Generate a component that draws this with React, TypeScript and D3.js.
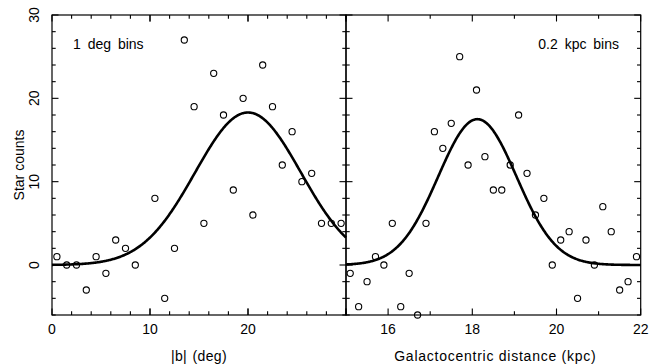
import React from "react";
import * as d3 from "d3";

const W = 657;
const H = 364;

// 1 degree bins in |b| (bin centres) and star counts
const latBins = [0.5, 1.5, 2.5, 3.5, 4.5, 5.5, 6.5, 7.5, 8.5, 10.5, 11.5, 12.5, 13.5, 14.5, 15.5, 16.5, 17.5, 18.5, 19.5, 20.5, 21.5, 22.5, 23.5, 24.5, 25.5, 26.5, 27.5, 28.5, 29.5];
const latCounts = [1, 0, 0, -3, 1, -1, 3, 2, 0, 8, -4, 2, 27, 19, 5, 23, 18, 9, 20, 6, 24, 19, 12, 16, 10, 11, 5, 5, 5];

// 0.2 kpc bins in Galactocentric distance (bin centres) and star counts
const distBins = [15.1, 15.3, 15.5, 15.7, 15.9, 16.1, 16.3, 16.5, 16.7, 16.9, 17.1, 17.3, 17.5, 17.7, 17.9, 18.1, 18.3, 18.5, 18.7, 18.9, 19.1, 19.3, 19.5, 19.7, 19.9, 20.1, 20.3, 20.5, 20.7, 20.9, 21.1, 21.3, 21.5, 21.7, 21.9];
const distCounts = [-1, -5, -2, 1, 0, 5, -5, -1, -6, 5, 16, 14, 17, 25, 12, 21, 13, 9, 9, 12, 18, 11, 6, 8, 0, 3, 4, -4, 3, 0, 7, 4, -3, -2, 1];

// Gaussian fits (amplitude, centre, sigma)
const latFitParams = [18.3, 20.0, 5.4];
const distFitParams = [17.5, 18.12, 0.93];

// Tick labels
const countTickLabels = [0, 10, 20, 30];
const latTickLabels = [0, 10, 20];
const distTickLabels = [16, 18, 20, 22];

const FONT = "'Liberation Sans', Arial, Helvetica, sans-serif";

const TOP = 15;
const BOTTOM = 315;
const LEFT = 52;
const MID = 346;
const RIGHT = 640.7;

const yScale = d3.scaleLinear().domain([-6, 30]).range([BOTTOM, TOP]);
const xLat = d3.scaleLinear().domain([0, 30]).range([LEFT, MID]);
const xDist = d3.scaleLinear().domain([15, 22]).range([MID, RIGHT]);

const MAJ = 6.5;
const MIN = 3.7;

const yMinor = d3.range(-6, 30.01, 2);

function gauss(p: number[], x: number) {
  const [a, c, s] = p;
  return a * Math.exp(-((x - c) * (x - c)) / (2 * s * s));
}

type PanelProps = {
  x: d3.ScaleLinear<number, number>;
  xMinor: number[];
  xMajor: number[];
  xLabels: number[];
  bins: number[];
  counts: number[];
  fit: number[];
};

function Panel({ x, xMinor, xMajor, xLabels, bins, counts, fit }: PanelProps) {
  const [x0, x1] = x.domain();
  const [px0, px1] = x.range();
  const samples = d3.range(0, 401).map((i) => x0 + ((x1 - x0) * i) / 400);
  const line = d3
    .line<number>()
    .x((d) => x(d))
    .y((d) => yScale(gauss(fit, d)));

  const ticks: React.ReactNode[] = [];
  xMinor.forEach((v, i) => {
    const len = xMajor.includes(v) ? MAJ : MIN;
    const px = x(v);
    ticks.push(<line key={`xb${i}`} x1={px} x2={px} y1={BOTTOM} y2={BOTTOM - len} />);
    ticks.push(<line key={`xt${i}`} x1={px} x2={px} y1={TOP} y2={TOP + len} />);
  });
  yMinor.forEach((v, i) => {
    const len = v % 10 === 0 ? MAJ : MIN;
    const py = yScale(v);
    ticks.push(<line key={`yl${i}`} x1={px0} x2={px0 + len} y1={py} y2={py} />);
    ticks.push(<line key={`yr${i}`} x1={px1} x2={px1 - len} y1={py} y2={py} />);
  });

  return (
    <g>
      <path d={line(samples) || ""} fill="none" stroke="#000" strokeWidth={2.6} strokeLinejoin="round" />
      <g fill="none" stroke="#000" strokeWidth={1.1}>
        {bins.map((b, i) => (
          <circle key={i} cx={x(b)} cy={yScale(counts[i])} r={3.1} />
        ))}
      </g>
      <g stroke="#000" strokeWidth={1.1}>{ticks}</g>
      <rect x={px0} y={TOP} width={px1 - px0} height={BOTTOM - TOP} fill="none" stroke="#000" strokeWidth={1.2} />
      <g fontFamily={FONT} fontSize={14} textAnchor="middle" fill="#000">
        {xLabels.map((v) => (
          <text key={v} x={x(v)} y={333.5}>
            {v}
          </text>
        ))}
      </g>
    </g>
  );
}

export default function App() {
  return (
    <svg
      width={W}
      height={H}
      viewBox={`0 0 ${W} ${H}`}
      style={{ position: "absolute", left: 0, top: 0, background: "#fff" }}
    >
      <rect x={0} y={0} width={W} height={H} fill="#fff" />
      <Panel
        x={xLat}
        xMinor={d3.range(0, 30.01, 2).concat([10, 20, 30]).sort((a, b) => a - b)}
        xMajor={[0, 10, 20, 30]}
        xLabels={latTickLabels}
        bins={latBins}
        counts={latCounts}
        fit={latFitParams}
      />
      <Panel
        x={xDist}
        xMinor={d3.range(15, 22.01, 1)}
        xMajor={[16, 18, 20, 22]}
        xLabels={distTickLabels}
        bins={distBins}
        counts={distCounts}
        fit={distFitParams}
      />
      <g fontFamily={FONT} fontSize={14} fill="#000" textAnchor="middle">
        {countTickLabels.map((v) => (
          <text key={v} transform={`translate(38.5,${yScale(v)}) rotate(-90)`}>
            {v}
          </text>
        ))}
        <text transform={`translate(24,${(TOP + BOTTOM) / 2}) rotate(-90)`}>Star counts</text>
        <text x={(LEFT + MID) / 2} y={361} letterSpacing={0.4} wordSpacing={1}>|b| (deg)</text>
        <text x={(MID + RIGHT) / 2 + 2} y={361} letterSpacing={0.75}>Galactocentric distance (kpc)</text>
      </g>
      <g fontFamily={FONT} fontSize={14} fill="#000" wordSpacing={3}>
        <text x={73} y={49}>1 deg bins</text>
        <text x={619} y={49} textAnchor="end">0.2 kpc bins</text>
      </g>
    </svg>
  );
}
